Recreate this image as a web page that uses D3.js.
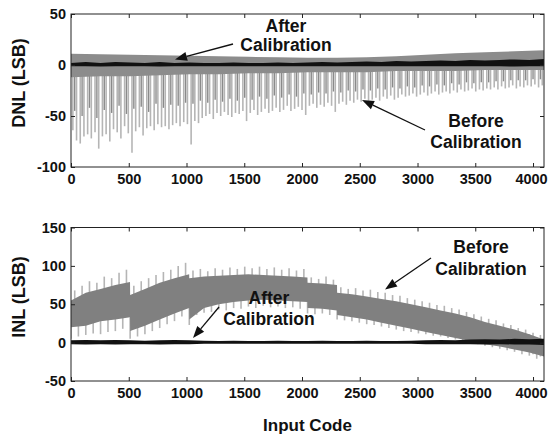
<!DOCTYPE html>
<html lang="en">
<head>
<meta charset="UTF-8">
<title>DNL / INL before and after calibration</title>
<script src="https://d3js.org/d3.v7.min.js"></script>
<style>
    body { margin: 0; background: #fff; }
    text { font-family: "Liberation Sans", Arial, sans-serif; font-weight: bold; fill: #111; }
    .tick text { font-size: 14.5px; }
    .tick line { stroke: #222; }
    .ylab { font-size: 18px; }
    .note { font-size: 17.5px; }
</style>
</head>
<body>
<script>
// axis ticks
var codeTicks = [0, 500, 1000, 1500, 2000, 2500, 3000, 3500, 4000];
var dnlTicks = [-100, -50, 0, 50];
var inlTicks = [-50, 0, 50, 100, 150];

// DNL before calibration: deep spikes, one every 32 codes (code 16 + 32*i)
var dnlSpikeLo = [
    -64, -74, -77, -70, -68, -72, -66, -82, -70, -68, -75, -63, -66, -72, -60, -67,
    -86, -65, -61, -69, -62, -60, -64, -58, -61, -60, -63, -59, -57, -60, -56, -58,
    -78, -55, -57, -52, -50, -48, -53, -47, -50, -46, -49, -51, -47, -48, -45, -55,
    -47, -44, -49, -46, -43, -47, -45, -42, -46, -44, -40, -45, -43, -41, -44, -49,
    -40, -38, -42, -39, -41, -37, -40, -46, -38, -36, -39, -35, -37, -34, -36, -33,
    -35, -34, -32, -35, -31, -33, -30, -34, -32, -29, -31, -30, -28, -31, -29, -27,
    -30, -28, -26, -29, -27, -26, -28, -25, -27, -24, -26, -25, -23, -26, -24, -25,
    -23, -24, -22, -24, -21, -23, -22, -20, -23, -21, -22, -20, -21, -19, -22, -20
];
// DNL before: medium spikes, one every 64 codes (code 32 + 64*i)
var dnlMidLo = [
    -45, -50, -42, -52, -44, -47, -40, -48, -43, -41, -46, -38, -42, -39, -40, -37,
    -38, -35, -37, -34, -36, -33, -35, -32, -34, -31, -33, -30, -32, -29, -31, -28,
    -29, -27, -28, -26, -27, -25, -26, -24, -25, -23, -24, -22, -23, -21, -22, -20,
    -21, -19, -20, -18, -19, -17, -18, -17, -17, -16, -16, -15, -15, -15, -14, -14
];
// DNL before: dense band envelope
var dnlEnvCodes = [0, 256, 512, 768, 1024, 1280, 1536, 1792, 2048, 2304, 2560, 2816, 3072, 3328, 3584, 3840, 4095];
var dnlBeforeHi = [11, 10.5, 10, 9.5, 9, 8.5, 8, 7.5, 7, 7, 7.5, 8.5, 10, 11.5, 12.5, 13.5, 14.5];
var dnlBeforeLo = [-12, -11, -11, -10, -9, -9, -8, -8, -7, -7, -7, -6, -6, -6, -5, -5, -5];

// after calibration traces (both plots)
var afterCodes = [0, 128, 256, 384, 512, 640, 768, 896, 1024, 1152, 1280, 1408, 1536, 1664, 1792, 1920, 2048,
    2176, 2304, 2432, 2560, 2688, 2816, 2944, 3072, 3200, 3328, 3456, 3584, 3712, 3840, 3968, 4095];
var dnlAfterHi = [2, 3, 2, 3, 2.5, 2, 3, 2, 2.5, 2, 2, 2.5, 2, 2, 2.5, 2, 2.5,
    3, 2.5, 3, 3.5, 3, 4, 3.5, 4, 4.5, 4, 5, 4.5, 5, 5.5, 5, 6];
var dnlAfterLo = [-1.2, -1.2, -1.5, -1.2, -1.2, -1.2, -1.5, -1.2, -1.2, -1.2, -1.2, -1.2, -1.2, -1.2, -1.2, -1.2, -1.2,
    -1.2, -1.2, -1.2, -1.2, -1.2, -1.2, -1.2, -1.2, -1.2, -1.2, -1.2, -1.2, -1.2, -1.5, -1.2, -1.2];
var inlAfterHi = [3, 3.5, 3, 3.5, 3, 2.5, 3, 3.5, 3, 2.5, 2, 2.5, 2, 2, 2.5, 2, 2,
    2.5, 2, 2, 2.5, 2, 2, 2.5, 3, 3.5, 3, 4, 4.5, 4, 5, 4.5, 5];
var inlAfterLo = [-2, -2.5, -2, -2.5, -2, -2, -2.5, -2, -2, -1.5, -1.5, -1.5, -1.5, -1.5, -1.5, -1.5, -1.5,
    -1.5, -1.5, -1.5, -1.5, -1.5, -1.5, -1.5, -2, -2, -2, -2, -2.5, -2, -2.5, -2.5, -3];

// INL before calibration: dense core band
var inlCoreCodes = [0, 128, 256, 384, 511, 512, 640, 768, 896, 1023, 1024, 1152, 1280, 1408, 1536, 1664, 1792, 1920,
    2047, 2048, 2176, 2303, 2304, 2432, 2560, 2688, 2816, 2944, 3072, 3200, 3328, 3456, 3584, 3712, 3840, 3968, 4095];
var inlCoreHi = [55, 65, 70, 75, 79, 62, 70, 78, 84, 89, 84, 86, 87, 88, 89, 88, 87, 86,
    85, 78, 77, 75, 65, 63, 60, 57, 54, 50, 46, 42, 38, 33, 27, 22, 17, 11, 4];
var inlCoreLo = [20, 22, 28, 30, 33, 15, 22, 30, 38, 45, 30, 45, 50, 53, 55, 56, 55, 54,
    53, 45, 44, 42, 36, 33, 30, 26, 22, 18, 14, 10, 6, 2, -2, -5, -9, -13, -18];
// INL before: upward spikes (code 32 + 64*i) and downward spikes (code 64*i)
var inlSpikeHi = [
    68, 74, 80, 78, 86, 84, 91, 95, 74, 80, 84, 88, 92, 95, 100, 104,
    94, 96, 93, 97, 95, 98, 96, 99, 97, 99, 96, 98, 95, 97, 94, 96,
    85, 83, 86, 82, 72, 70, 71, 68, 69, 66, 65, 62, 61, 58, 56, 54,
    52, 49, 48, 45, 43, 40, 37, 34, 31, 29, 25, 23, 19, 17, 13, 10
];
var inlSpikeLo = [
    5, 8, 10, 12, 11, 14, 15, 18, 5, 8, 11, 15, 19, 24, 28, 34,
    23, 36, 39, 40, 43, 42, 45, 44, 47, 45, 48, 46, 47, 45, 46, 44,
    38, 37, 38, 36, 30, 29, 28, 26, 24, 23, 21, 19, 17, 15, 14, 12,
    11, 9, 8, 6, 4, 2, 0, -2, -4, -6, -8, -10, -12, -15, -17, -21
];

var svg = d3.select("body").append("svg").attr("width", 548).attr("height", 436);

var x = d3.scaleLinear().domain([0, 4095]).range([71, 544]);
var yD = d3.scaleLinear().domain([-100, 50]).range([167, 14]);
var yI = d3.scaleLinear().domain([-50, 150]).range([381, 227.5]);

var defs = svg.append("defs");
[["clipD", yD], ["clipI", yI]].forEach(function (c) {
    var r = c[1].range();
    defs.append("clipPath").attr("id", c[0]).append("rect")
        .attr("x", 71).attr("y", r[1]).attr("width", 473).attr("height", r[0] - r[1]);
});

function band(codes, lo, hi, y) {
    return d3.area()
        .x(function (d) { return x(d); })
        .y0(function (d, i) { return y(lo[i]); })
        .y1(function (d, i) { return y(hi[i]); })(codes);
}

// ---- DNL plot ----
var gD = svg.append("g").attr("clip-path", "url(#clipD)");
gD.selectAll("line.spk").data(dnlSpikeLo).join("line").attr("class", "spk")
    .attr("x1", function (d, i) { return x(16 + 32 * i); })
    .attr("x2", function (d, i) { return x(16 + 32 * i); })
    .attr("y1", yD(0)).attr("y2", function (d) { return yD(d); })
    .attr("stroke", "#b5b5b5").attr("stroke-width", 1.6);
gD.selectAll("line.mid").data(dnlMidLo).join("line").attr("class", "mid")
    .attr("x1", function (d, i) { return x(32 + 64 * i); })
    .attr("x2", function (d, i) { return x(32 + 64 * i); })
    .attr("y1", yD(0)).attr("y2", function (d) { return yD(d); })
    .attr("stroke", "#8a8a8a").attr("stroke-width", 1.4);
gD.append("path").attr("d", band(dnlEnvCodes, dnlBeforeLo, dnlBeforeHi, yD)).attr("fill", "#8c8c8c");
gD.append("path").attr("d", band(afterCodes, dnlAfterLo, dnlAfterHi, yD)).attr("fill", "#111");

// ---- INL plot ----
var gI = svg.append("g").attr("clip-path", "url(#clipI)");
gI.selectAll("line.hi").data(inlSpikeHi).join("line").attr("class", "hi")
    .attr("x1", function (d, i) { return x(32 + 64 * i); })
    .attr("x2", function (d, i) { return x(32 + 64 * i); })
    .attr("y1", function (d) { return yI(d); }).attr("y2", function (d) { return yI(d - 28); })
    .attr("stroke", "#b5b5b5").attr("stroke-width", 1.6);
gI.selectAll("line.lo").data(inlSpikeLo).join("line").attr("class", "lo")
    .attr("x1", function (d, i) { return x(64 * i); })
    .attr("x2", function (d, i) { return x(64 * i); })
    .attr("y1", function (d) { return yI(d); }).attr("y2", function (d) { return yI(d + 28); })
    .attr("stroke", "#b5b5b5").attr("stroke-width", 1.6);
gI.append("path").attr("d", band(inlCoreCodes, inlCoreLo, inlCoreHi, yI)).attr("fill", "#808080");
gI.append("path").attr("d", band(afterCodes, inlAfterLo, inlAfterHi, yI)).attr("fill", "#111");

// ---- axes and frames ----
function axes(y, ticks) {
    var r = y.range();
    var g = svg.append("g");
    g.append("g").attr("transform", "translate(0," + r[0] + ")")
        .call(d3.axisBottom(x).tickValues(codeTicks).tickSize(-4).tickSizeOuter(0).tickPadding(7).tickFormat(String))
        .selectAll(".tick text").filter(function (d) { return d === 4000; }).attr("dx", -2);
    g.append("g").attr("transform", "translate(0," + r[1] + ")")
        .call(d3.axisTop(x).tickValues(codeTicks).tickSize(-4).tickSizeOuter(0).tickFormat(""));
    g.append("g").attr("transform", "translate(71,0)")
        .call(d3.axisLeft(y).tickValues(ticks).tickSize(-4).tickSizeOuter(0).tickPadding(5).tickFormat(String));
    g.append("g").attr("transform", "translate(544,0)")
        .call(d3.axisRight(y).tickValues(ticks).tickSize(-4).tickSizeOuter(0).tickFormat(""));
    g.selectAll(".domain").remove();
    g.append("rect").attr("x", 71).attr("y", r[1]).attr("width", 473).attr("height", r[0] - r[1])
        .attr("fill", "none").attr("stroke", "#222");
}
axes(yD, dnlTicks);
axes(yI, inlTicks);

svg.append("text").attr("class", "ylab").attr("text-anchor", "middle")
    .attr("transform", "translate(24.5,83) rotate(-90)").text("DNL (LSB)");
svg.append("text").attr("class", "ylab").attr("text-anchor", "middle")
    .attr("transform", "translate(24.5,297) rotate(-90)").text("INL (LSB)");
svg.append("text").attr("class", "ylab").style("font-size", "17px").attr("text-anchor", "middle")
    .attr("x", 307.5).attr("y", 431).text("Input Code");

// ---- annotations ----
function note(cx, y1, y2, first) {
    svg.append("text").attr("class", "note").attr("text-anchor", "middle").attr("x", cx).attr("y", y1).text(first);
    svg.append("text").attr("class", "note").attr("text-anchor", "middle").attr("x", cx).attr("y", y2).text("Calibration");
}
function arrow(x1, y1, x2, y2) {
    var a = Math.atan2(y2 - y1, x2 - x1), L = 12, w = 4.5;
    var bx = x2 - L * Math.cos(a), by = y2 - L * Math.sin(a);
    svg.append("line").attr("x1", x1).attr("y1", y1).attr("x2", bx).attr("y2", by)
        .attr("stroke", "#111").attr("stroke-width", 1.3);
    svg.append("path").attr("fill", "#111").attr("d",
        "M" + x2 + "," + y2 +
        "L" + (bx + w * Math.sin(a)) + "," + (by - w * Math.cos(a)) +
        "L" + (bx - w * Math.sin(a)) + "," + (by + w * Math.cos(a)) + "Z");
}
note(286, 32, 51, "After");
arrow(233, 44, 175, 59.5);
note(476, 127, 148, "Before");
arrow(425, 130, 362, 100);
note(481, 253, 275, "Before");
arrow(431, 258, 385, 289.5);
note(269, 304, 325, "After");
arrow(219, 307, 193, 338);
</script>
</body>
</html>
